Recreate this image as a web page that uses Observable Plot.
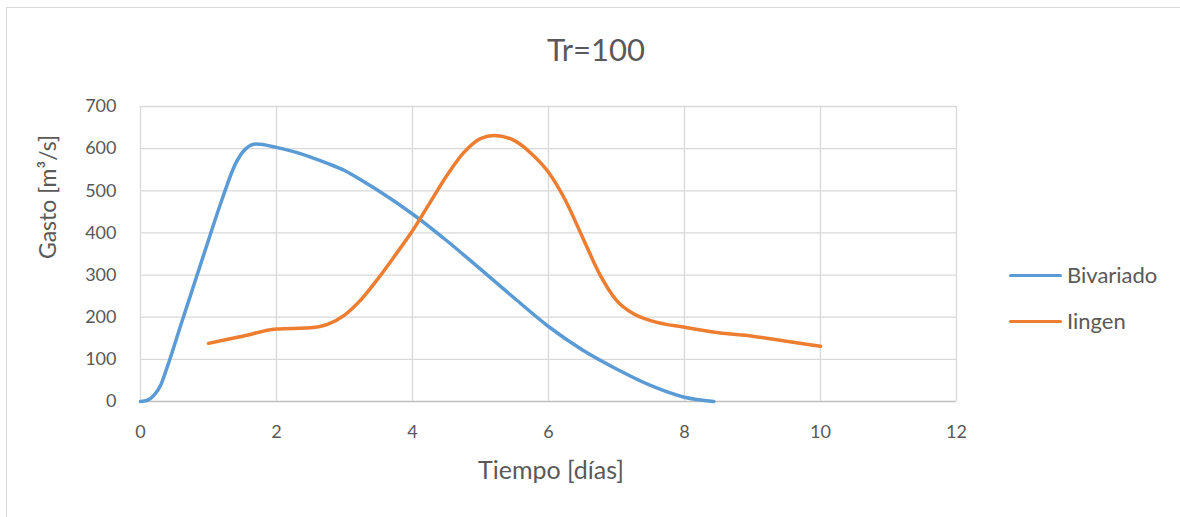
<!DOCTYPE html>
<html><head><meta charset="utf-8">
<script src="https://cdn.jsdelivr.net/npm/d3@7"></script>
<script src="https://cdn.jsdelivr.net/npm/@observablehq/plot@0.6"></script>
<style>
body{margin:0;background:#fff;}
#wrap{position:relative;width:1180px;height:517px;overflow:hidden;font-family:Lato,sans-serif;color:#595959;background:#fff;}
#frame{position:absolute;left:6px;top:7px;width:1300px;height:700px;border-left:1.5px solid #d9d9d9;border-top:1.5px solid #d9d9d9;}
#title{position:absolute;left:446px;width:300px;top:34px;text-align:center;font-size:31px;line-height:30px;white-space:nowrap;font-weight:400;}
#plot{position:absolute;left:0;top:80px;}
#ylab{position:absolute;left:47px;top:197px;transform:translate(-50%,-50%) rotate(-90deg);font-size:23px;line-height:24px;white-space:nowrap;}
#xlab{position:absolute;left:551px;top:469px;transform:translate(-50%,-50%);font-size:25px;line-height:24px;white-space:nowrap;}
.leg{position:absolute;left:1009px;font-size:22px;line-height:22px;white-space:nowrap;}
.leg span.sw{position:absolute;left:0;top:9.5px;width:53px;height:3.5px;border-radius:2px;}
.leg span.tx{position:absolute;left:58px;top:0;}
</style></head>
<body>
<div id="wrap">
  <div id="frame"></div>
  <div id="title">Tr=100</div>
  <div id="plot"></div>
  <div id="ylab">Gasto [m³/s]</div>
  <div id="xlab">Tiempo [días]</div>
  <div id="legend"></div>
</div>
<script>
const seriesNames = ["Bivariado", "Iingen"];
const seriesColors = ["#5b9bd5", "#ed7d31"];

const bivT = [0, 0.1, 0.2, 0.3, 0.4, 0.6, 0.8, 1, 1.2, 1.4, 1.55, 1.7, 2, 2.25, 2.5, 2.75, 3, 3.25, 3.5, 4, 4.5, 5, 5.5, 6, 6.5, 7, 7.5, 8, 8.43];
const bivQ = [0, 3, 15, 40, 85, 185, 284, 383, 480, 565, 600, 611, 603, 593, 580, 565, 548, 525, 500, 445, 382, 314, 245, 178, 122, 77, 38, 10, 0];

const iinT = [1, 1.5, 2, 2.5, 2.75, 3, 3.25, 3.5, 3.75, 4, 4.25, 4.5, 4.75, 5, 5.2, 5.5, 5.75, 6, 6.25, 6.5, 6.75, 7, 7.25, 7.5, 8, 8.5, 9, 9.5, 10];
const iinQ = [138, 155, 172, 175, 183, 205, 243, 293, 348, 405, 470, 535, 590, 624, 631, 619, 588, 544, 477, 390, 303, 240, 208, 192, 176, 163, 155, 143, 131];

const xTicks = [0, 2, 4, 6, 8, 10, 12];
const yTicks = [0, 100, 200, 300, 400, 500, 600, 700];

const biv = bivT.map((t, i) => ({t, q: bivQ[i], s: seriesNames[0]}));
const iin = iinT.map((t, i) => ({t, q: iinQ[i], s: seriesNames[1]}));

const chart = Plot.plot({
  width: 1180, height: 437,
  marginLeft: 140, marginRight: 224, marginTop: 26, marginBottom: 116,
  style: {fontFamily: "Lato, sans-serif", fontSize: "18px", color: "#595959", background: "transparent", overflow: "visible"},
  x: {domain: [0, 12]},
  y: {domain: [0, 700]},
  marks: [
    Plot.gridX(xTicks, {stroke: "#d9d9d9", strokeOpacity: 1, strokeWidth: 1.3}),
    Plot.gridY(yTicks.filter(v => v > 0), {stroke: "#d9d9d9", strokeOpacity: 1, strokeWidth: 1.3}),
    Plot.ruleY([0], {stroke: "#bfbfbf", strokeWidth: 1.5}),
    Plot.axisX(xTicks, {tickSize: 0, tickPadding: 24, label: null, fill: "#595959"}),
    Plot.axisY(yTicks, {tickSize: 0, tickPadding: 24, label: null, fill: "#595959"}),
    Plot.line(biv, {x: "t", y: "q", stroke: seriesColors[0], strokeWidth: 3.5, curve: "monotone-x", strokeLinecap: "round"}),
    Plot.line(iin, {x: "t", y: "q", stroke: seriesColors[1], strokeWidth: 3.5, curve: "monotone-x", strokeLinecap: "round"})
  ]
});
document.getElementById("plot").appendChild(chart);

const legend = document.getElementById("legend");
const legTops = [264, 310];
seriesNames.forEach((n, i) => {
  const d = document.createElement("div");
  d.className = "leg";
  d.style.top = legTops[i] + "px";
  d.innerHTML = `<span class="sw" style="background:${seriesColors[i]}"></span><span class="tx">${n}</span>`;
  legend.appendChild(d);
});
</script>
</body></html>
